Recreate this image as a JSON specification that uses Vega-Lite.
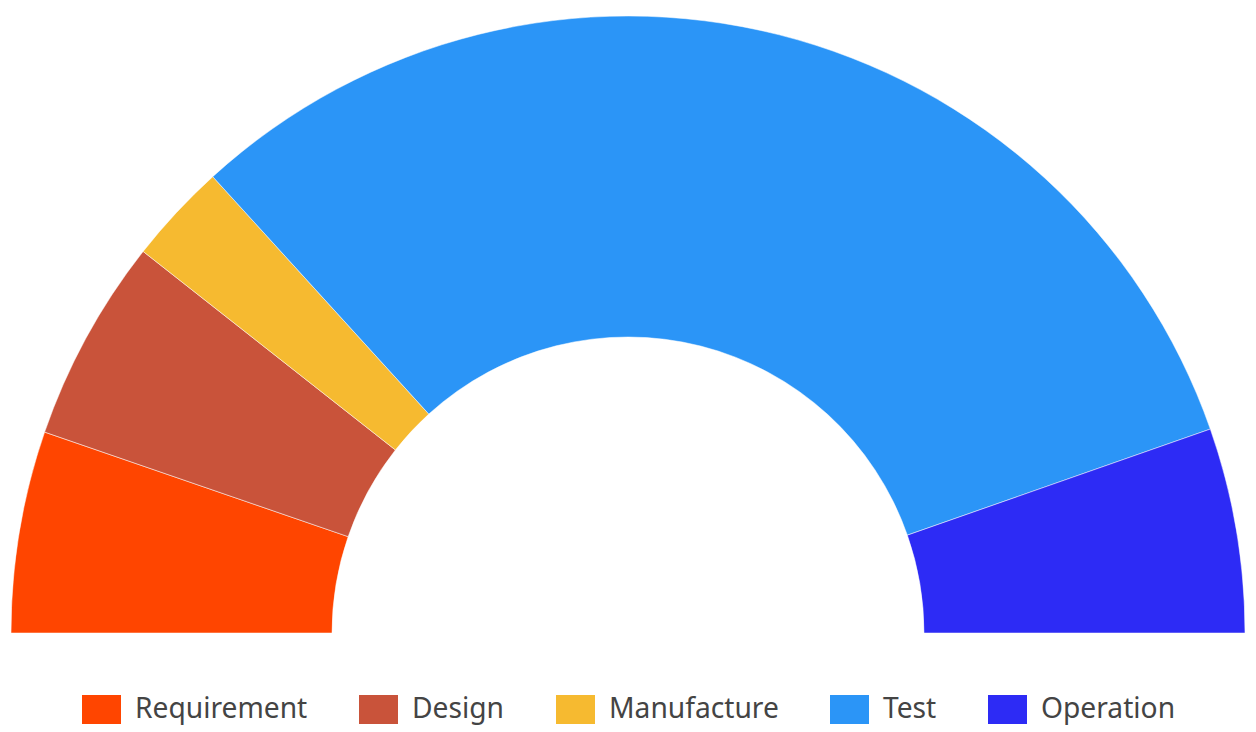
{
  "$schema": "https://vega.github.io/schema/vega-lite/v6.json",
  "width": 1256,
  "height": 633,
  "padding": {"left": 0, "top": 0, "right": 0, "bottom": 2},
  "autosize": {"type": "pad"},
  "background": "white",
  "view": {"stroke": null},
  "data": {
    "values": [
      {"phase": "Requirement", "value": 19.0, "order": 1},
      {"phase": "Design", "value": 19.2, "order": 2},
      {"phase": "Manufacture", "value": 9.5, "order": 3},
      {"phase": "Test", "value": 113.0, "order": 4},
      {"phase": "Operation", "value": 19.3, "order": 5}
    ]
  },
  "mark": {"type": "arc", "radius": 617, "radius2": 296, "y": "height", "stroke": "white", "strokeWidth": 0.5},
  "encoding": {
    "theta": {"field": "value", "type": "quantitative", "stack": true, "scale": {"range": [-1.5707963, 1.5707963]}},
    "order": {"field": "order", "type": "quantitative"},
    "color": {
      "field": "phase",
      "type": "nominal",
      "sort": ["Requirement", "Design", "Manufacture", "Test", "Operation"],
      "scale": {
        "domain": ["Requirement", "Design", "Manufacture", "Test", "Operation"],
        "range": ["#FF4500", "#C9533A", "#F6BA30", "#2B95F7", "#2D2BF5"]
      },
      "legend": {
        "title": null,
        "orient": "none",
        "legendX": 82,
        "legendY": 690,
        "direction": "horizontal",
        "symbolType": "M-1,-0.74H1V0.74H-1Z",
        "symbolSize": 1521,
        "symbolStrokeWidth": 0,
        "symbolOpacity": 1,
        "labelFont": "Noto Sans",
        "labelFontSize": 28.2,
        "labelColor": "#444444",
        "labelOffset": 14,
        "columnPadding": 51,
        "labelLimit": 400
      }
    }
  }
}
